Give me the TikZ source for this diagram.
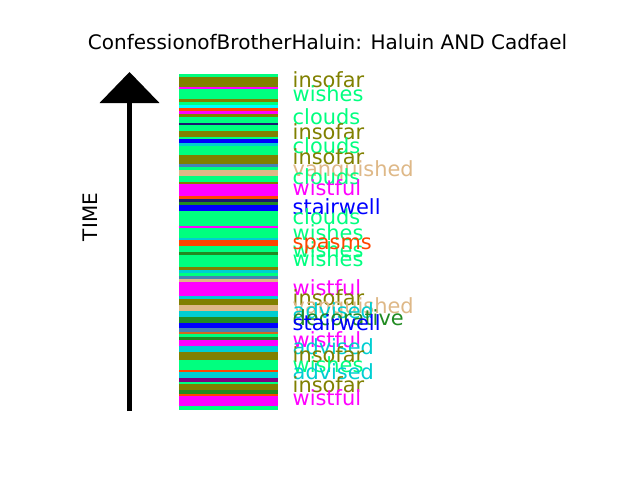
\documentclass[tikz,border=0pt]{standalone}
\usepackage{fontspec}
\setmainfont{DejaVu Sans}
\usetikzlibrary{arrows.meta}
\definecolor{sgreen}{HTML}{00FF7F}
\definecolor{olivec}{HTML}{808000}
\definecolor{magc}{HTML}{FF00FF}
\definecolor{ored}{HTML}{FF4500}
\definecolor{mblue}{HTML}{191970}
\definecolor{bluec}{HTML}{0000FF}
\definecolor{dturq}{HTML}{00CED1}
\definecolor{bwood}{HTML}{DEB887}
\definecolor{fgreen}{HTML}{228B22}
\definecolor{sblue}{HTML}{4682B4}
\definecolor{choc}{HTML}{D2691E}
\definecolor{purp}{HTML}{800080}
\definecolor{aquac}{HTML}{00FFFF}
\tikzset{
  every node/.style={inner sep=0pt, font=\fontsize{20}{24}\selectfont},
  word/.style={anchor=base west, font=\fontsize{20.9}{24}\selectfont, yshift=-2.5pt},
}

\begin{document}
\begin{tikzpicture}[x=1pt,y=-1pt]
    \useasboundingbox (0,0) rectangle (640,480);
    \node at (327.5, 49.3) [anchor=base] (title) {ConfessionofBrotherHaluin: Haluin AND Cadfael};
    \node at (97, 217) [rotate=90, anchor=base] (time) {TIME};

    % timeline bar
    \foreach \a/\b/\c in {74/77/sgreen, 77/87/olivec, 87/89/magc, 89/99/sgreen, 99/102/olivec,
      102/105/sgreen, 105/108/aquac, 108/111/ored, 111/114/magc, 114/117/olivec, 117/123/sgreen,
      123/125/mblue, 125/131/sgreen, 131/137/olivec, 137/139/sgreen, 139/143/bluec, 143/146/dturq,
      146/155/sgreen, 155/164/olivec, 164/167/sblue, 167/170/sgreen, 170/176/bwood, 176/182/sgreen,
      182/184/olivec, 184/196/magc, 196/199/ored, 199/202/mblue, 202/205/fgreen, 205/211/bluec,
      211/226/sgreen, 226/228/magc, 228/238/sgreen, 238/240/dturq, 240/246/ored, 246/252/sgreen,
      252/255/fgreen, 255/267/sgreen, 267/270/olivec, 270/273/dturq, 273/276/sgreen, 276/279/sblue,
      279/282/bwood, 282/296/magc, 296/299/dturq, 299/305/olivec, 305/311/bwood, 311/317/dturq,
      317/323/fgreen, 323/328/bluec, 328/332/sblue, 332/334/choc, 334/337/sgreen, 337/340/fgreen,
      340/346/magc, 346/352/dturq, 352/360/olivec, 360/370/sgreen, 370/372/ored, 372/378/dturq,
      378/382/purp, 382/384/sgreen, 384/390/olivec, 390/394/fgreen, 394/396/ored, 396/406/magc,
      406/410/sgreen}
      \fill[\c] (179,\a) rectangle (278,\b);

    % labels
    \foreach \y/\t/\c [count=\i] in {85/insofar/olivec, 99.3/wishes/sgreen, 121.7/clouds/sgreen,
      136.7/insofar/olivec, 151/clouds/sgreen, 161.7/insofar/olivec, 174.3/vanquished/bwood,
      182/clouds/sgreen, 193.3/wistful/magc, 211.7/stairwell/bluec, 221.7/clouds/sgreen,
      238.3/wishes/sgreen, 255/wishes/sgreen, 264/wishes/sgreen, 246.7/spasms/ored,
      293.3/wistful/magc, 303.3/insofar/olivec, 310.7/vanquished/bwood, 316/advised/dturq,
      322.7/decorative/fgreen, 328.3/stairwell/bluec, 345/wistful/magc, 351.7/advised/dturq,
      360/insofar/olivec, 370/wishes/sgreen, 377.3/advised/dturq, 390/insofar/olivec,
      403.3/wistful/magc}
      \node at (292.5,\y) [word, text=\c] (w\i) {\t};

    % time arrow
    \coordinate (tbot) at (129.5,411);
    \coordinate (ttop) at (129.5,72);
    \draw[line width=4.5pt, -{Triangle[width=59pt,length=31pt]}] (tbot) -- (ttop);
\end{tikzpicture}
\end{document}
